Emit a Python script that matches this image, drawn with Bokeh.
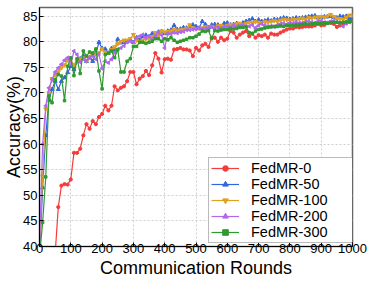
from bokeh.plotting import figure
from bokeh.models import Legend, LegendItem, FixedTicker
from bokeh.embed import file_html
from bokeh.resources import INLINE
import math

rounds = list(range(0, 1001, 10))

fedmr_0 = [
    10.0, 16.0, 22.0, 28.0, 33.0, 38.5, 47.7, 51.9, 52.2, 52.1,
    53.1, 58.3, 58.3, 59.1, 61.7, 63.9, 63.0, 64.5, 63.9, 65.3,
    65.9, 67.5, 66.6, 67.5, 71.3, 70.5, 71.0, 71.3, 72.3, 74.1,
    74.1, 71.7, 72.8, 73.3, 74.3, 73.5, 75.4, 77.8, 76.7, 74.0,
    76.6, 76.7, 76.5, 78.5, 78.6, 78.8, 78.5, 78.5, 78.3, 77.2,
    78.8, 78.3, 79.3, 79.6, 79.0, 80.8, 80.8, 80.0, 80.8, 80.3,
    80.6, 82.1, 81.8, 80.8, 81.4, 81.8, 82.1, 81.1, 81.6, 80.8,
    81.3, 81.1, 81.4, 80.8, 81.6, 81.4, 81.4, 81.8, 82.1, 82.4,
    82.6, 82.6, 82.9, 82.8, 82.9, 83.0, 83.0, 83.0, 83.2, 83.5,
    83.2, 83.3, 83.7, 83.7, 83.5, 82.9, 83.2, 83.5, 83.6, 84.0,
    84.0]

fedmr_50 = [
    38.0, 51.5, 61.7, 68.6, 70.7, 72.3, 70.7, 72.3, 73.0, 74.0,
    75.2, 74.6, 76.2, 76.7, 77.3, 76.2, 76.9, 76.2, 77.7, 79.9,
    78.7, 78.6, 77.8, 78.7, 78.4, 80.5, 79.8, 79.9, 80.1, 80.4,
    79.9, 80.8, 80.3, 81.0, 81.3, 81.0, 81.6, 81.3, 81.9, 82.0,
    81.6, 82.1, 82.3, 83.2, 82.4, 82.5, 82.8, 82.7, 83.0, 83.3,
    83.0, 82.7, 84.0, 83.4, 82.8, 83.3, 83.4, 83.3, 83.0, 83.6,
    83.7, 83.3, 83.4, 83.6, 83.3, 83.7, 84.0, 84.2, 84.5, 84.0,
    84.3, 84.0, 84.1, 84.3, 84.1, 84.4, 84.3, 84.5, 84.7, 84.6,
    84.4, 84.5, 84.7, 84.6, 84.7, 84.8, 84.9, 85.0, 85.1, 84.7,
    84.8, 84.9, 84.9, 85.0, 84.8, 84.7, 85.0, 84.9, 85.0, 84.6,
    84.5]

fedmr_100 = [
    40.0, 53.7, 66.9, 70.0, 72.8, 73.5, 74.1, 74.9, 75.5, 76.4,
    76.5, 75.5, 76.2, 76.7, 76.9, 76.2, 77.0, 77.3, 77.6, 77.9,
    78.6, 77.9, 77.9, 78.5, 79.0, 79.6, 80.0, 80.3, 80.3, 80.6,
    81.4, 80.3, 80.0, 80.3, 80.6, 80.6, 81.0, 81.8, 81.2, 82.1,
    81.9, 82.0, 82.1, 82.4, 82.2, 82.3, 82.4, 82.6, 83.3, 82.7,
    82.5, 82.6, 82.7, 82.9, 82.8, 83.0, 82.8, 83.1, 83.2, 83.0,
    83.2, 83.4, 83.3, 83.5, 83.6, 83.4, 83.6, 83.8, 83.7, 83.9,
    83.8, 83.7, 83.9, 83.8, 84.0, 84.1, 84.0, 84.2, 84.4, 84.3,
    84.2, 84.4, 84.3, 84.5, 84.6, 84.4, 84.7, 84.6, 84.8, 84.7,
    84.9, 84.8, 85.0, 85.3, 84.9, 84.6, 84.5, 84.4, 84.8, 85.2,
    85.2]

fedmr_200 = [
    40.0, 60.0, 67.5, 71.0, 72.6, 74.1, 74.9, 75.6, 76.4, 76.9,
    75.6, 78.2, 77.5, 76.0, 76.6, 76.3, 76.9, 77.3, 76.6, 77.6,
    74.8, 76.2, 75.9, 76.6, 77.9, 78.5, 78.8, 79.2, 79.9, 80.1,
    79.9, 80.8, 81.1, 81.4, 80.8, 81.1, 80.5, 81.1, 81.8, 81.3,
    78.8, 81.6, 81.5, 81.8, 81.7, 81.9, 82.0, 82.3, 82.3, 82.4,
    82.5, 82.7, 82.5, 82.6, 82.7, 82.9, 82.7, 82.8, 82.6, 82.9,
    83.0, 82.8, 83.2, 83.0, 83.1, 83.3, 83.0, 83.0, 83.3, 82.7,
    83.2, 83.5, 83.2, 83.0, 83.1, 82.9, 83.3, 83.5, 83.6, 83.4,
    83.7, 83.6, 83.8, 83.7, 83.7, 83.9, 84.0, 83.8, 83.7, 84.0,
    84.1, 83.8, 83.7, 84.0, 84.1, 83.9, 83.6, 83.0, 83.6, 83.8,
    84.1]

fedmr_300 = [
    38.0, 44.7, 53.6, 69.4, 68.1, 72.6, 73.6, 73.3, 68.5, 75.2,
    76.9, 73.4, 76.7, 73.8, 78.2, 77.2, 78.0, 77.8, 78.6, 74.3,
    70.8, 77.5, 77.8, 78.2, 76.9, 78.5, 74.1, 74.1, 76.2, 76.7,
    79.1, 79.1, 79.9, 79.9, 79.7, 79.9, 80.1, 80.6, 80.6, 80.1,
    80.6, 80.4, 80.8, 80.3, 79.9, 80.1, 80.3, 80.5, 80.8, 80.8,
    81.1, 81.5, 82.1, 82.0, 82.2, 80.6, 82.2, 82.1, 82.3, 82.4,
    82.4, 82.6, 82.5, 82.6, 82.8, 82.8, 82.9, 81.8, 81.6, 82.1,
    82.4, 82.5, 82.7, 82.8, 82.9, 83.0, 83.0, 83.1, 83.0, 83.2,
    83.2, 83.2, 83.3, 83.3, 83.4, 83.5, 83.4, 83.5, 83.6, 83.6,
    83.6, 83.7, 83.6, 83.7, 83.8, 83.8, 83.7, 83.8, 83.9, 83.9,
    84.0]

series_labels = ["FedMR-0", "FedMR-50", "FedMR-100", "FedMR-200", "FedMR-300"]
x_ticks = [0, 100, 200, 300, 400, 500, 600, 700, 800, 900, 1000]
y_ticks = [40, 45, 50, 55, 60, 65, 70, 75, 80, 85]

FONT = "Liberation Sans"

p = figure(width=374, height=282, x_range=(0, 1000), y_range=(40, 86.7),
           output_backend="svg", toolbar_location=None,
           min_border_left=39, min_border_right=22, min_border_top=7,
           min_border_bottom=36)

p.outline_line_color = "#666666"
p.outline_line_width = 1.5
p.background_fill_color = "white"
p.border_fill_color = "white"

for g in (p.xgrid, p.ygrid):
    g.grid_line_color = "#cfcfcf"
    g.grid_line_dash = "2 2"
    g.grid_line_width = 1

p.xaxis.ticker = FixedTicker(ticks=x_ticks)
p.yaxis.ticker = FixedTicker(ticks=y_ticks)
for ax in (p.xaxis, p.yaxis):
    ax.axis_line_color = "black"
    ax.major_tick_in = 4
    ax.major_tick_out = 0
    ax.minor_tick_line_color = None
    ax.major_tick_line_color = "black"
    ax.major_label_text_font = FONT
    ax.major_label_text_font_size = "13px"
    ax.major_label_text_color = "black"
    ax.axis_label_text_font = FONT
    ax.axis_label_text_font_size = "18px"
    ax.axis_label_text_font_style = "normal"
    ax.axis_label_text_color = "black"

p.xaxis.axis_label = "Communication Rounds"
p.yaxis.axis_label = "Accuracy(%)"
p.xaxis.major_label_standoff = -3
p.xaxis.axis_label_standoff = 2
p.yaxis.major_label_standoff = 2
p.yaxis.axis_label_standoff = -4

styles = [
    (fedmr_0, "#f53b3b", "circle", 3.2, 0.0),
    (fedmr_50, "#3366dd", "triangle", 4, 0.0),
    (fedmr_100, "#e0a020", "inverted_triangle", 4, 0.0),
    (fedmr_200, "#b266ee", "triangle", 3.5, math.pi / 2),
    (fedmr_300, "#2f9a2f", "square", 2.5, 0.0),
]

items = []
for label, (vals, color, marker, size, ang) in zip(series_labels, styles):
    l = p.line(rounds, vals, line_color=color, line_width=1.2)
    s = p.scatter(rounds, vals, marker=marker, size=size, angle=ang,
                  fill_color=color, line_color=color)
    items.append(LegendItem(label=label, renderers=[l, s]))

legend = Legend(items=items, location=(169, 3))
legend.label_text_font = FONT
legend.label_text_font_size = "14.5px"
legend.label_text_color = "black"
legend.glyph_width = 28
legend.glyph_height = 14
legend.label_height = 14
legend.label_width = 100
legend.label_standoff = 12
legend.padding = 2
legend.spacing = 0
legend.margin = 0
legend.border_line_color = "#777777"
legend.border_line_width = 1.2
legend.background_fill_color = "white"
legend.background_fill_alpha = 1.0
p.add_layout(legend)

open("out.html", "w").write(file_html(p, INLINE))
